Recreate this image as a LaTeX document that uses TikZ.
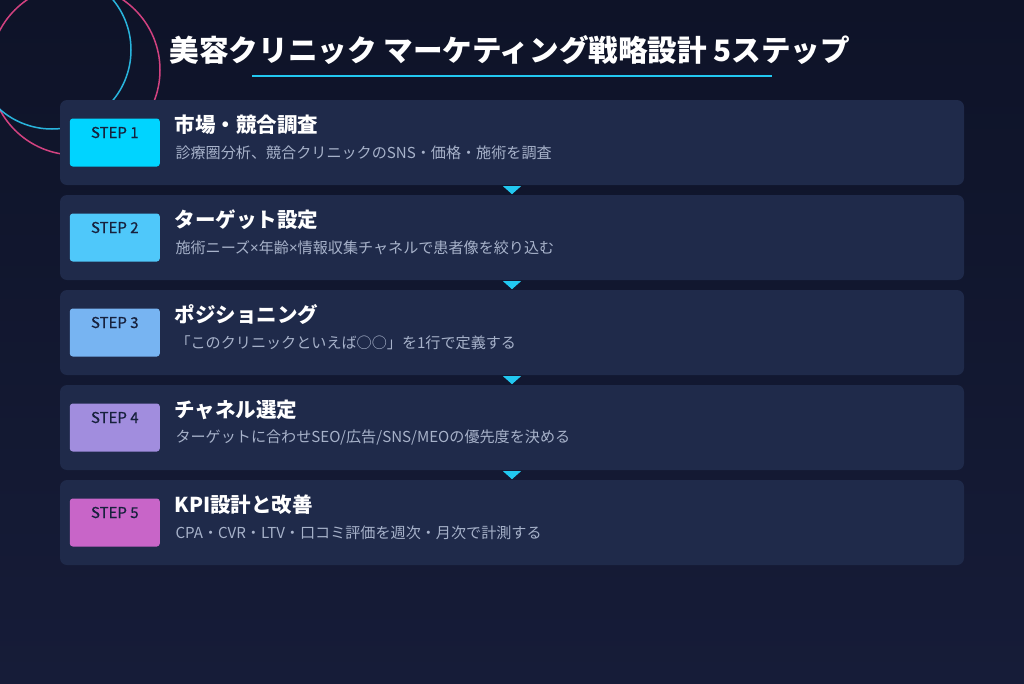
\documentclass[tikz,border=0pt]{standalone}
\usepackage{fontspec}
\setmainfont{Noto Sans CJK JP}
\newfontfamily\latinfont{Noto Sans}
\newfontfamily\badgefont[FakeBold=0.7]{Noto Sans CJK JP}
\newcommand{\narrowx}{{\latinfont ×}}
\definecolor{bgtop}{HTML}{0E1328}
\definecolor{bgbot}{HTML}{161C38}
\definecolor{cardfill}{HTML}{1F2A4A}
\definecolor{desctext}{HTML}{A7B2CA}
\definecolor{accent}{HTML}{22C8F0}
\definecolor{ringpink}{HTML}{E8478A}
\definecolor{ringcyan}{HTML}{2CC6F0}
\definecolor{badgetext}{HTML}{17213D}
\definecolor{stepA}{HTML}{00D4FF}
\definecolor{stepB}{HTML}{4FC8FA}
\definecolor{stepC}{HTML}{77B4F2}
\definecolor{stepD}{HTML}{A18DDE}
\definecolor{stepE}{HTML}{C865C8}
\begin{document}
\begin{tikzpicture}[x=1pt, y=-1pt,
    card/.style={fill=cardfill, rounded corners=7pt, minimum width=904pt, minimum height=85pt, inner sep=0pt},
    badge/.style={rounded corners=3pt, minimum width=90pt, inner xsep=0pt, inner ysep=4pt,
        text height=15.5pt, text depth=24.5pt, text=badgetext, font=\fontsize{15pt}{16pt}\badgefont},
    head/.style={anchor=west, inner sep=0pt, text=white, font=\fontsize{20.5pt}{24pt}\selectfont\bfseries},
    desc/.style={anchor=west, inner sep=0pt, text=desctext, font=\fontsize{15.1pt}{18pt}\selectfont},
    tri/.style={fill=accent}]
    
    \useasboundingbox (0,0) rectangle (1024,683);
    \shade[top color=bgtop, bottom color=bgbot] (0,0) rectangle (1024,683);
    
    \draw[ringpink, line width=1.5pt, opacity=0.9] (75,70) circle[radius=85pt];
    \draw[ringcyan, line width=1.5pt, opacity=0.9] (52,50) circle[radius=79pt];
    
    \node[text=white, font=\fontsize{29.6pt}{34pt}\selectfont\bfseries] (title) at (510,50)
        {美容クリニック マーケティング戦略設計 5ステップ};
    \draw[accent, line width=2pt] (252,76) -- (772,76);
    
    \foreach \n/\col/\head/\desc in {
        1/stepA/市場・競合調査/診療圏分析、競合クリニックのSNS・価格・施術を調査,
        2/stepB/ターゲット設定/施術ニーズ\narrowx 年齢\narrowx 情報収集チャネルで患者像を絞り込む,
        3/stepC/ポジショニング/「このクリニックといえば○○」を1行で定義する,
        4/stepD/チャネル選定/{ターゲットに合わせSEO/広告/SNS/MEOの優先度を決める},
        5/stepE/KPI設計と改善/CPA・CVR・LTV・口コミ評価を週次・月次で計測する}
    {
    \node[card] (card\n) at (512,47.5+95*\n) {};
    \node[badge, fill=\col] (badge\n) at ([xshift=55pt]card\n.west) {STEP \n};
    \node[head] (head\n) at ([xshift=114.5pt,yshift=17.5pt]card\n.west) {\head};
    \node[desc] (desc\n) at ([xshift=115.5pt,yshift=-10.5pt]card\n.west) {\desc};
    }
    
    \foreach \n in {1,...,4}
    \fill[tri] ([xshift=-9pt,yshift=-1pt]card\n.south) -- ([xshift=9pt,yshift=-1pt]card\n.south)
        -- ([yshift=-9pt]card\n.south) -- cycle;
   
\end{tikzpicture}
\end{document}
